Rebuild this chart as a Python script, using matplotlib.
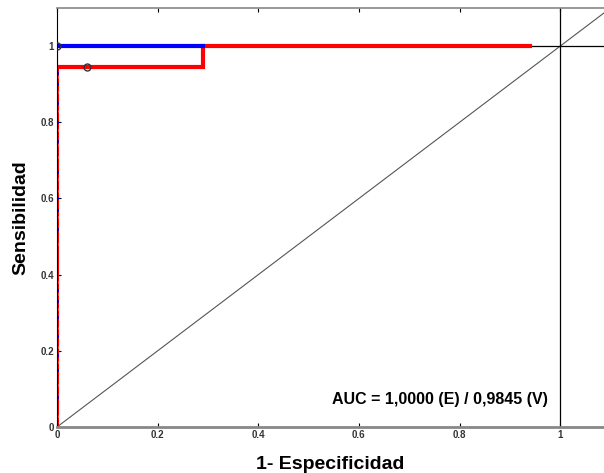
import matplotlib.pyplot as plt
import numpy as np

# curva ROC (E) y (V)
fpr_e = [0, 0, 0.29]
tpr_e = [0, 1, 1]
fpr_v = [0, 0, 0.29, 0.29, 0.94]
tpr_v = [0, 0.945, 0.945, 1, 1]

# puntos de corte marcados en el eje
pts_e = [0.08, 0.15, 0.19, 0.24, 0.29, 0.33, 0.36, 0.52, 0.57, 0.6, 0.67, 0.75, 0.8, 0.85, 0.9, 0.93]
pts_v = [0.03, 0.11, 0.17, 0.21, 0.26, 0.31, 0.35, 0.38, 0.48, 0.55, 0.62, 0.65, 0.71, 0.74, 0.78, 0.83, 0.88, 0.92]

opt_e = (0.0, 1.0)
opt_v = (0.06, 0.945)
auc_text = 'AUC = 1,0000 (E) / 0,9845 (V)'

plt.rcParams['font.family'] = ['Liberation Sans', 'DejaVu Sans']

fig = plt.figure(figsize=(6.04, 4.73), dpi=100)
ax = fig.add_axes([57 / 604, 46 / 473, 1 - 57 / 604, 419 / 473])

ax.plot([0, 1.2], [0, 1.2], color='#555555', lw=0.8)
ax.axvline(1, color='black', lw=0.9)
ax.axhline(1, color='black', lw=0.9)

ax.plot(fpr_v, tpr_v, color='red', lw=3, solid_joinstyle='miter')
ax.plot(fpr_e[1:], tpr_e[1:], color='blue', lw=3)
ax.plot([0, 0], [0, 1], color='red', lw=1.5)
ax.plot(np.zeros(len(pts_e)), pts_e, '.', color='blue', ms=2.5)
ax.plot(np.zeros(len(pts_v)), pts_v, '.', color='#ff5050', ms=2.5)
ax.plot(*opt_e, 'o', mfc='none', mec='#333333', ms=5, zorder=5)
ax.plot(*opt_v, 'o', mfc='none', mec='#333333', ms=5, zorder=5)

ax.set_xlim(0, 1.087)
ax.set_ylim(0, 1.1)
ax.set_xticks([0, 0.2, 0.4, 0.6, 0.8, 1])
ax.set_xticklabels(['0', '0.2', '0.4', '0.6', '0.8', '1'])
ax.set_yticks([0, 0.2, 0.4, 0.6, 0.8, 1])
ax.set_yticklabels(['0', '0.2', '0.4', '0.6', '0.8', '1'])
ax.tick_params(direction='in', length=3, labelsize=7, top=True, pad=2)
for lab in ax.get_xticklabels() + ax.get_yticklabels():
    lab.set_fontweight('bold')
    lab.set_color('#333333')

ax.spines['bottom'].set_color('#888888')
ax.spines['bottom'].set_linewidth(2)
ax.spines['top'].set_color('#888888')
ax.spines['top'].set_linewidth(1.2)
ax.spines['left'].set_color('black')
ax.spines['right'].set_visible(False)

ax.set_xlabel('1- Especificidad', fontsize=14, fontweight='bold', labelpad=12)
ax.set_ylabel('Sensibilidad', fontsize=14, fontweight='bold', labelpad=8)
ax.text(0.76, 0.071, auc_text, fontsize=11.5, fontweight='bold', va='center', ha='center')

plt.savefig('out.png', dpi=100)
